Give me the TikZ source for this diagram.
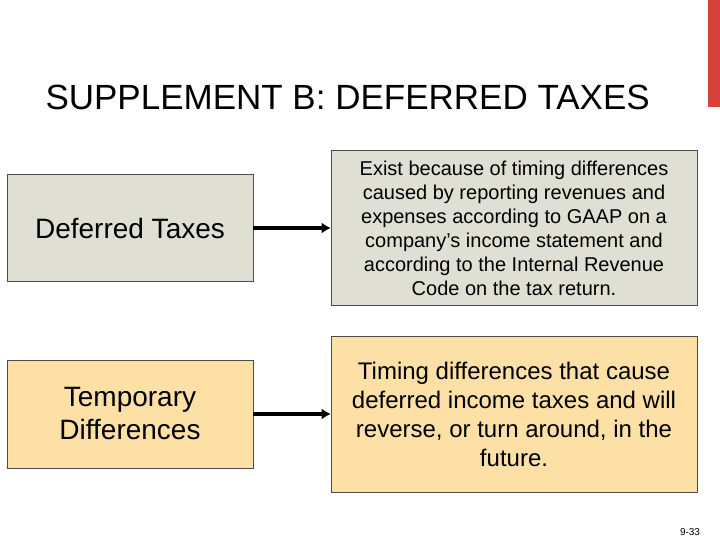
\documentclass[tikz,border=0pt]{standalone}
\usepackage{fontspec}
\usetikzlibrary{arrows.meta}
\setmainfont{Liberation Sans}
\definecolor{gbox}{HTML}{DFDFD3}
\definecolor{obox}{HTML}{FDE0A6}
\definecolor{redbar}{HTML}{D9403A}
\begin{document}
\begin{tikzpicture}[x=1pt,y=-1pt,
  box/.style={draw=black!70,line width=0.6pt,align=center,inner sep=0pt},
  arr/.style={line width=4pt,-{Latex[length=9pt,width=11pt]}}]
\useasboundingbox (0,0) rectangle (720,540);
\fill[redbar] (708,0) rectangle (720,107);
\node[anchor=west,font=\fontsize{35}{40}\selectfont] (title) at (42,97) {SUPPLEMENT B: DEFERRED TAXES};
\node[box,fill=gbox,minimum width=246pt,minimum height=107pt,font=\fontsize{28}{32}\selectfont] (b1) at (130,228) {Deferred Taxes};
\node[box,fill=gbox,minimum width=366pt,minimum height=155pt,font=\fontsize{20}{24}\selectfont] (b2) at (514,228) {Exist because of timing differences\\caused by reporting revenues and\\expenses according to GAAP on a\\company’s income statement and\\according to the Internal Revenue\\Code on the tax return.};
\node[box,fill=obox,minimum width=246pt,minimum height=108pt,font=\fontsize{28}{33}\selectfont] (b3) at (130,414) {Temporary\\Differences};
\node[box,fill=obox,minimum width=366pt,minimum height=156pt,font=\fontsize{24}{29}\selectfont] (b4) at (514,414) {Timing differences that cause\\deferred income taxes and will\\reverse, or turn around, in the\\future.};
\draw[arr] (b1.east) -- (b2.west);
\draw[arr] (b3.east) -- (b4.west);
\node[font=\fontsize{10}{12}\selectfont] (pg) at (690,532) {9-33};
\end{tikzpicture}
\end{document}
